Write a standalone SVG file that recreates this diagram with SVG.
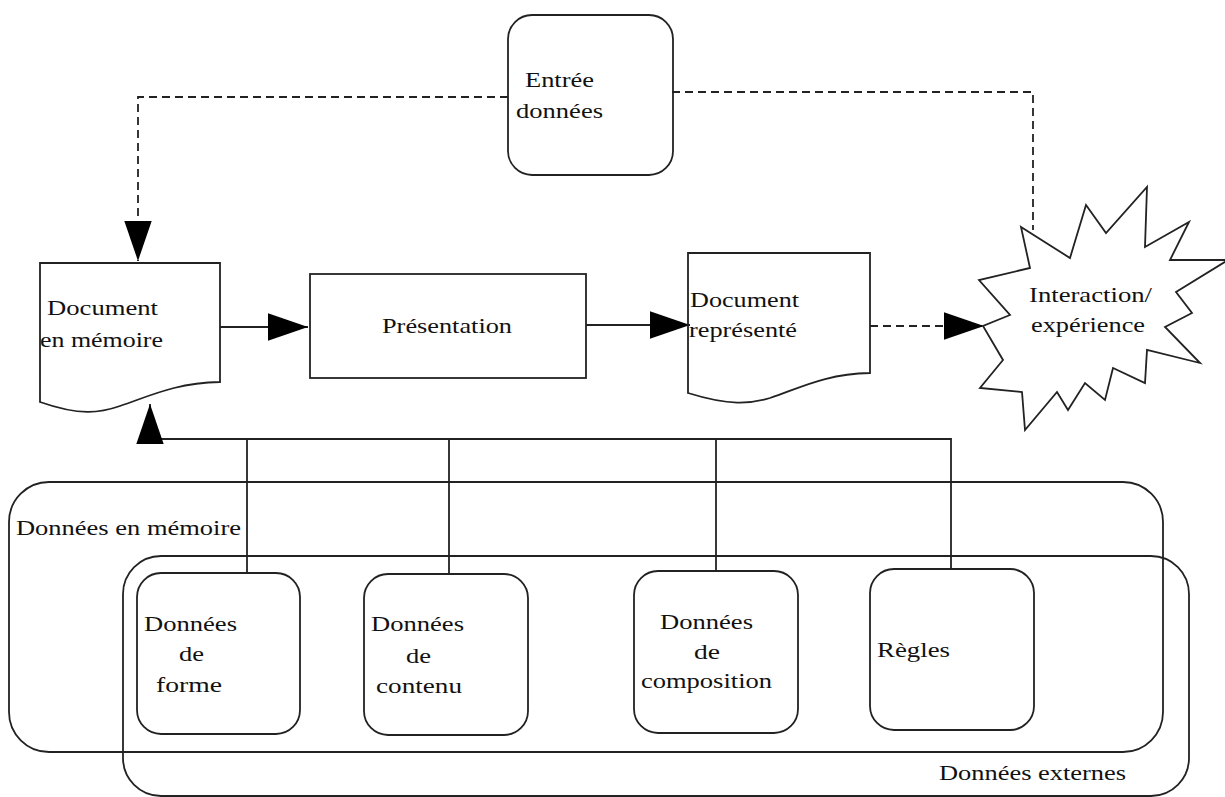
<svg xmlns="http://www.w3.org/2000/svg" width="1225" height="797" viewBox="0 0 1225 797">
<style>
.s{fill:none;stroke:#222;stroke-width:1.8}
.b{fill:#fff;stroke:#222;stroke-width:1.8}
.d{fill:none;stroke:#222;stroke-width:1.8;stroke-dasharray:8 5}
.t{font-family:'Liberation Serif','Times New Roman','DejaVu Serif',serif;font-size:22px;fill:#111}
</style>
<defs>
<marker id="ah" markerUnits="userSpaceOnUse" markerWidth="40" markerHeight="30" viewBox="0 0 38 26" refX="38" refY="13" orient="auto">
<path d="M0,0 L38,13 L0,26 Z" fill="#000"/>
</marker>
</defs>
<rect width="1225" height="797" fill="#fff"/>
<g id="donnees-memoire">
<rect class="s" x="9" y="482" width="1154" height="270" rx="40" ry="40"/>
<text class="t" font-family="Liberation Serif, serif" x="16" y="535" textLength="225" lengthAdjust="spacingAndGlyphs">Données en mémoire</text>
</g>
<g id="donnees-externes">
<rect class="s" x="123" y="556" width="1066" height="240" rx="38" ry="38"/>
<text class="t" font-family="Liberation Serif, serif" x="939" y="780" textLength="187" lengthAdjust="spacingAndGlyphs">Données externes</text>
</g>
<g id="connectors">
<path class="d" d="M508,97 H138 V261" marker-end="url(#ah)"/>
<path class="d" d="M672,92 H1033 V230"/>
<path class="s" d="M220,327 H308" marker-end="url(#ah)"/>
<path class="s" d="M586,325 H690" marker-end="url(#ah)"/>
<path class="d" d="M870,326 H984" marker-end="url(#ah)"/>
<path class="s" d="M951,569 V439 H150 V404" marker-end="url(#ah)"/>
<path class="s" d="M247,573 V439"/>
<path class="s" d="M449,574 V439"/>
<path class="s" d="M716,571 V439"/>
</g>
<g id="entree">
<rect class="s" x="508" y="15" width="165" height="160" rx="24" ry="24"/>
<text class="t" font-family="Liberation Serif, serif" x="525" y="87" textLength="69" lengthAdjust="spacingAndGlyphs">Entrée</text>
<text class="t" font-family="Liberation Serif, serif" x="516" y="118" textLength="87" lengthAdjust="spacingAndGlyphs">données</text>
</g>
<g id="doc-memoire">
<path class="s" d="M40,263 H220 V382 C175,383 150,396 120,406 C100,413 80,416 40,402 Z"/>
<text class="t" font-family="Liberation Serif, serif" x="47" y="315" textLength="111" lengthAdjust="spacingAndGlyphs">Document</text>
<text class="t" font-family="Liberation Serif, serif" x="40" y="347" textLength="123" lengthAdjust="spacingAndGlyphs">en mémoire</text>
</g>
<g id="presentation">
<rect class="s" x="310" y="274" width="276" height="104"/>
<text class="t" font-family="Liberation Serif, serif" x="382" y="333" textLength="130" lengthAdjust="spacingAndGlyphs">Présentation</text>
</g>
<g id="doc-represente">
<path class="s" d="M688,253 H870 V373 C825,374 800,388 770,398 C750,404 730,406 688,393 Z"/>
<text class="t" font-family="Liberation Serif, serif" x="690" y="307" textLength="109" lengthAdjust="spacingAndGlyphs">Document</text>
<text class="t" font-family="Liberation Serif, serif" x="689" y="337" textLength="108" lengthAdjust="spacingAndGlyphs">représenté</text>
</g>
<g id="interaction">
<path class="b" d="M1021,227 L1070,258 L1086,205 L1106,233 L1147,187 L1145,247 L1189,222 L1170,260 L1228,260 L1176,292 L1192,313 L1165,327 L1200,363 L1147,350 L1145,383 L1113,368 L1105,400 L1085,383 L1068,410 L1057,392 L1025,430 L1022,392 L980,388 L1003,360 L983,326 L1010,315 L979,280 L1030,268 Z"/>
<text class="t" font-family="Liberation Serif, serif" x="1029" y="302" textLength="123" lengthAdjust="spacingAndGlyphs">Interaction/</text>
<text class="t" font-family="Liberation Serif, serif" x="1031" y="332" textLength="114" lengthAdjust="spacingAndGlyphs">expérience</text>
</g>
<g id="forme">
<rect class="b" x="137" y="573" width="163" height="161" rx="24" ry="24"/>
<text class="t" font-family="Liberation Serif, serif" x="144" y="631" textLength="93" lengthAdjust="spacingAndGlyphs">Données</text>
<text class="t" font-family="Liberation Serif, serif" x="179" y="661" textLength="25" lengthAdjust="spacingAndGlyphs">de</text>
<text class="t" font-family="Liberation Serif, serif" x="156" y="692" textLength="66" lengthAdjust="spacingAndGlyphs">forme</text>
</g>
<g id="contenu">
<rect class="b" x="364" y="574" width="164" height="161" rx="24" ry="24"/>
<text class="t" font-family="Liberation Serif, serif" x="371" y="631" textLength="93" lengthAdjust="spacingAndGlyphs">Données</text>
<text class="t" font-family="Liberation Serif, serif" x="406" y="663" textLength="25" lengthAdjust="spacingAndGlyphs">de</text>
<text class="t" font-family="Liberation Serif, serif" x="376" y="693" textLength="86" lengthAdjust="spacingAndGlyphs">contenu</text>
</g>
<g id="composition">
<rect class="b" x="634" y="571" width="164" height="162" rx="24" ry="24"/>
<text class="t" font-family="Liberation Serif, serif" x="660" y="629" textLength="93" lengthAdjust="spacingAndGlyphs">Données</text>
<text class="t" font-family="Liberation Serif, serif" x="694" y="659" textLength="26" lengthAdjust="spacingAndGlyphs">de</text>
<text class="t" font-family="Liberation Serif, serif" x="641" y="688" textLength="131" lengthAdjust="spacingAndGlyphs">composition</text>
</g>
<g id="regles">
<rect class="b" x="870" y="569" width="164" height="161" rx="24" ry="24"/>
<text class="t" font-family="Liberation Serif, serif" x="877" y="657" textLength="73" lengthAdjust="spacingAndGlyphs">Règles</text>
</g>
</svg>
